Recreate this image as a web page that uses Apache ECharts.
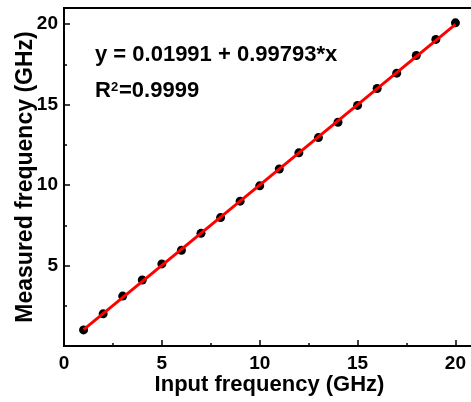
<!DOCTYPE html>
<html>
<head>
<meta charset="utf-8">
<script src="https://cdn.jsdelivr.net/npm/echarts@6/dist/echarts.min.js"></script>
<style>
  html, body { margin: 0; padding: 0; background: #fff; }
  #chart { width: 471px; height: 402px; }
</style>
</head>
<body>
<div id="chart"></div>
<script>
const inputFreq = [1, 2, 3, 4, 5, 6, 7, 8, 9, 10, 11, 12, 13, 14, 15, 16, 17, 18, 19, 20]
const measuredFreq = [1.0, 2.0, 3.1, 4.1, 5.1, 5.95, 7.0, 7.98, 9.0, 9.95, 11.0, 12.0, 12.95, 13.9, 14.95, 16.0, 16.95, 18.05, 19.05, 20.08]
// linear fit end points (y = 0.01991 + 0.99793*x)
const fitLine = [[1, 1.018], [20, 19.978]]

const font = "Liberation Sans"
const chart = echarts.init(document.getElementById("chart"))

const axisCommon = {
  axisLine: { lineStyle: { color: "#000", width: 2 } },
  axisTick: { inside: true, length: 6, lineStyle: { color: "#000", width: 1.5 } },
  minorTick: { show: true, splitNumber: 2, length: 3, lineStyle: { color: "#000", width: 1.5 } },
  splitLine: { show: false },
  axisLabel: { color: "#000", fontFamily: font, fontWeight: "bold", fontSize: 19 },
  nameTextStyle: { color: "#000", fontFamily: font, fontWeight: "bold", fontSize: 22 },
  nameMoveOverlap: false,
}

chart.setOption({
  animation: false,
  backgroundColor: "#fff",
  grid: {
    left: 64, top: 8, width: 411, height: 338,
    outerBoundsMode: "none",
    show: true, borderColor: "#000", borderWidth: 2,
  },
  xAxis: {
    ...axisCommon,
    type: "value", min: 0, max: 21, interval: 5,
    name: "Input frequency (GHz)", nameLocation: "middle", nameGap: 28,
    axisLabel: { ...axisCommon.axisLabel, margin: 8, showMaxLabel: false },
  },
  yAxis: {
    ...axisCommon,
    type: "value", min: 0, max: 21, interval: 5,
    name: "Measured frequency (GHz)", nameLocation: "middle", nameGap: 27,
    nameTextStyle: { ...axisCommon.nameTextStyle, fontSize: 23 },
    axisLabel: { ...axisCommon.axisLabel, margin: 6, showMinLabel: false, showMaxLabel: false },
  },
  graphic: [
    {
      type: "text", left: 95, top: 44,
      style: { text: "y = 0.01991 + 0.99793*x", fill: "#000", font: "bold 22px " + font },
    },
    {
      type: "text", left: 95, top: 80,
      style: { text: "R", fill: "#000", font: "bold 22px " + font },
    },
    {
      type: "text", left: 111, top: 81,
      style: { text: "2", fill: "#000", font: "bold 13px " + font },
    },
    {
      type: "text", left: 119, top: 80,
      style: { text: "=0.9999", fill: "#000", font: "bold 22px " + font },
    },
  ],
  series: [
    {
      type: "scatter",
      data: inputFreq.map((x, i) => [x, measuredFreq[i]]),
      symbolSize: 9,
      itemStyle: { color: "#000", opacity: 1 },
      z: 2,
    },
    {
      type: "line",
      data: fitLine,
      symbol: "none",
      lineStyle: { color: "#ff0000", width: 3 },
      z: 3,
    },
  ],
})
</script>
</body>
</html>
